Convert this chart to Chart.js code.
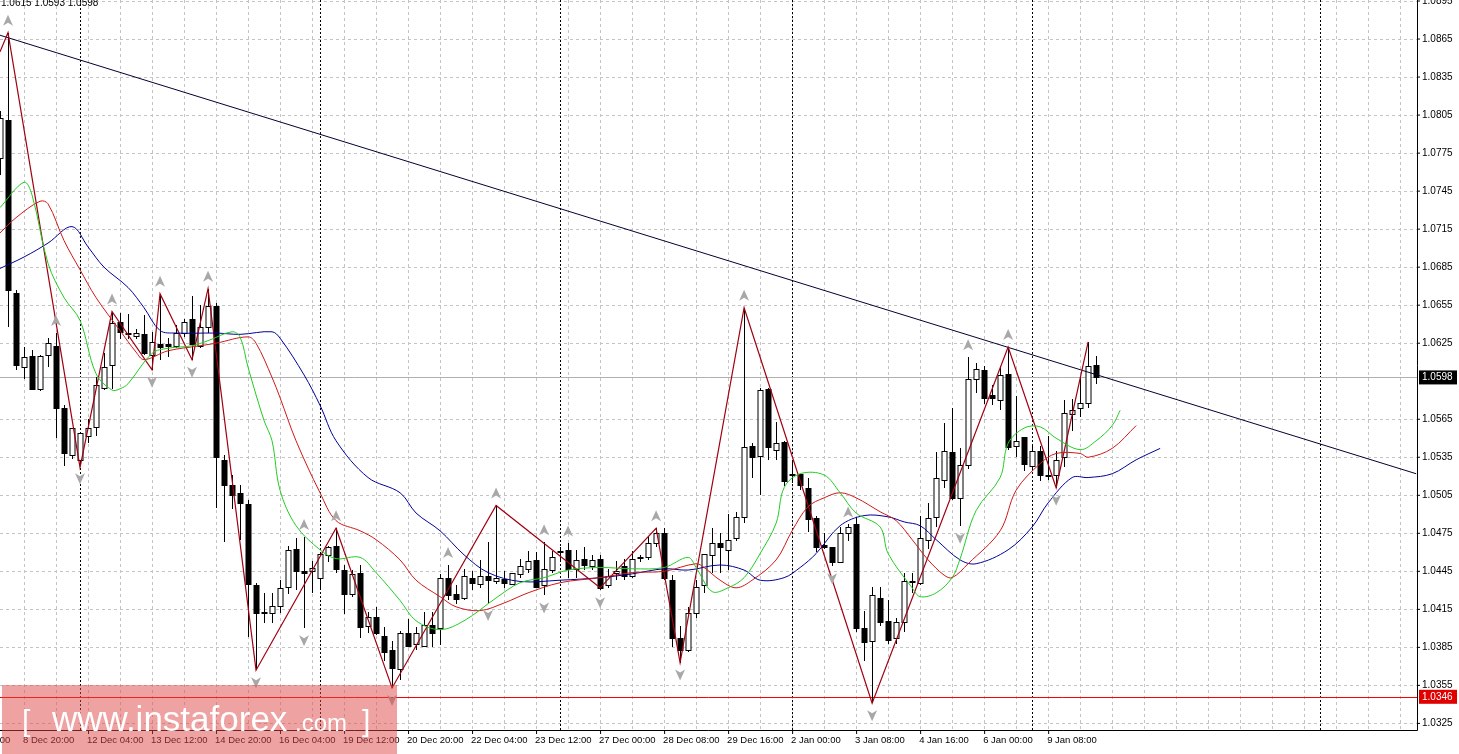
<!DOCTYPE html>
<html><head><meta charset="utf-8">
<script src="https://cdn.jsdelivr.net/npm/chart.js@4"></script>
<style>html,body{margin:0;padding:0;background:#fff;overflow:hidden}#wrap{width:1459px;height:754px}</style>
</head><body><div id="wrap"><canvas id="c" width="1459" height="754"></canvas></div>
<script>
// ---- data (EURUSD H4) ----
const opens = [
1.0771,1.0801,1.0665,1.0606,1.0615,1.0589,1.0616,1.0623,1.0574,1.0537,
1.0533,1.0552,1.0559,1.0590,1.0608,1.0642,1.0633,1.0631,1.0632,1.0616,
1.0624,1.0624,1.0623,1.0633,1.0644,1.0623,1.0638,1.0654,1.0533,1.0513,
1.0507,1.0498,1.0434,1.0412,1.0412,1.0418,1.0433,1.0463,1.0445,1.0445,
1.0440,1.0458,1.0465,1.0446,1.0427,1.0444,1.0402,1.0409,1.0394,1.0383,
1.0368,1.0396,1.0388,1.0386,1.0403,1.0400,1.0440,1.0427,1.0424,1.0440,
1.0435,1.0441,1.0437,1.0439,1.0435,1.0443,1.0447,1.0454,1.0434,1.0446,
1.0461,1.0462,1.0447,1.0455,1.0449,1.0455,1.0434,1.0444,1.0449,1.0441,
1.0456,1.0456,1.0467,1.0475,1.0438,1.0392,1.0383,1.0412,1.0434,1.0458,
1.0467,1.0462,1.0471,1.0488,1.0544,1.0536,1.0589,1.0541,1.0547,1.0522,
1.0522,1.0511,1.0487,1.0466,1.0464,1.0452,1.0475,1.0482,1.0400,1.0390,
1.0424,1.0406,1.0392,1.0405,1.0437,1.0436,1.0470,1.0488,1.0517,1.0539,
1.0503,1.0529,1.0597,1.0604,1.0584,1.0580,1.0601,1.0544,1.0551,1.0528,
1.0540,1.0521,1.0521,1.0535,1.0569,1.0574,1.0578,1.0608];
const highs = [
1.0808,1.0870,1.0667,1.0622,1.0620,1.0616,1.0629,1.0633,1.0576,1.0558,
1.0554,1.0565,1.0598,1.0617,1.0650,1.0649,1.0648,1.0636,1.0647,1.0634,
1.0664,1.0629,1.0639,1.0644,1.0662,1.0655,1.0668,1.0657,1.0537,1.0521,
1.0513,1.0501,1.0436,1.0428,1.0428,1.0438,1.0465,1.0471,1.0472,1.0453,
1.0459,1.0465,1.0479,1.0450,1.0446,1.0450,1.0413,1.0417,1.0401,1.0390,
1.0398,1.0407,1.0401,1.0413,1.0413,1.0443,1.0450,1.0434,1.0447,1.0445,
1.0454,1.0468,1.0497,1.0445,1.0444,1.0455,1.0461,1.0460,1.0468,1.0461,
1.0464,1.0467,1.0462,1.0464,1.0458,1.0458,1.0447,1.0453,1.0455,1.0461,
1.0458,1.0473,1.0479,1.0479,1.0442,1.0402,1.0417,1.0438,1.0459,1.0479,
1.0475,1.0490,1.0492,1.0653,1.0546,1.0590,1.0590,1.0563,1.0548,1.0531,
1.0522,1.0519,1.0489,1.0475,1.0464,1.0480,1.0482,1.0488,1.0414,1.0433,
1.0433,1.0422,1.0408,1.0444,1.0444,1.0489,1.0499,1.0539,1.0562,1.0574,
1.0542,1.0614,1.0609,1.0607,1.0592,1.0607,1.0622,1.0583,1.0551,1.0544,
1.0544,1.0552,1.0540,1.0580,1.0581,1.0598,1.0626,1.0615];
const lows = [
1.0758,1.0638,1.0604,1.0597,1.0588,1.0587,1.0606,1.0550,1.0528,1.0534,
1.0528,1.0546,1.0552,1.0588,1.0589,1.0628,1.0628,1.0628,1.0616,1.0604,
1.0612,1.0614,1.0621,1.0630,1.0612,1.0621,1.0633,1.0495,1.0468,1.0494,
1.0470,1.0393,1.0367,1.0404,1.0404,1.0412,1.0427,1.0430,1.0400,1.0428,
1.0432,1.0452,1.0444,1.0411,1.0425,1.0392,1.0396,1.0395,1.0374,1.0353,
1.0359,1.0385,1.0383,1.0385,1.0385,1.0387,1.0422,1.0419,1.0422,1.0430,
1.0432,1.0420,1.0435,1.0432,1.0434,1.0440,1.0444,1.0432,1.0426,1.0444,
1.0452,1.0440,1.0440,1.0446,1.0446,1.0430,1.0432,1.0438,1.0438,1.0440,
1.0452,1.0454,1.0464,1.0438,1.0385,1.0373,1.0381,1.0408,1.0428,1.0444,
1.0444,1.0446,1.0469,1.0483,1.0519,1.0505,1.0533,1.0533,1.0512,1.0515,
1.0509,1.0476,1.0460,1.0463,1.0449,1.0452,1.0469,1.0397,1.0374,1.0341,
1.0402,1.0388,1.0388,1.0397,1.0428,1.0434,1.0463,1.0480,1.0511,1.0501,
1.0481,1.0526,1.0586,1.0577,1.0576,1.0572,1.0541,1.0535,1.0524,1.0524,
1.0516,1.0517,1.0511,1.0527,1.0556,1.0567,1.0574,1.0593];
const closes = [
1.0803,1.0667,1.0608,1.0614,1.0589,1.0615,1.0625,1.0574,1.0538,1.0558,
1.0554,1.0558,1.0592,1.0606,1.0641,1.0634,1.0633,1.0633,1.0617,1.0626,
1.0622,1.0623,1.0633,1.0642,1.0624,1.0638,1.0654,1.0535,1.0513,1.0505,
1.0499,1.0435,1.0412,1.0413,1.0418,1.0432,1.0462,1.0445,1.0444,1.0448,
1.0459,1.0464,1.0447,1.0427,1.0443,1.0401,1.0409,1.0396,1.0381,1.0369,
1.0396,1.0386,1.0396,1.0403,1.0396,1.0440,1.0426,1.0423,1.0441,1.0436,
1.0441,1.0438,1.0440,1.0436,1.0444,1.0449,1.0453,1.0433,1.0447,1.0456,
1.0461,1.0447,1.0454,1.0450,1.0454,1.0432,1.0441,1.0445,1.0441,1.0455,
1.0456,1.0467,1.0475,1.0440,1.0392,1.0383,1.0412,1.0433,1.0459,1.0467,
1.0464,1.0470,1.0488,1.0543,1.0535,1.0588,1.0543,1.0546,1.0516,1.0522,
1.0513,1.0486,1.0464,1.0464,1.0452,1.0475,1.0480,1.0400,1.0389,1.0426,
1.0405,1.0391,1.0405,1.0437,1.0437,1.0471,1.0487,1.0519,1.0540,1.0503,
1.0529,1.0597,1.0605,1.0582,1.0582,1.0600,1.0543,1.0548,1.0530,1.0540,
1.0521,1.0521,1.0533,1.0570,1.0572,1.0578,1.0607,1.0598];

const greenIdx = [0,3,4,6,8,10,12,14,15,16,19,21,24,26,29,30,31,33,34,35,37,40,42,45,47,50,52,55,58,62,65,68,71,75,79,83,86,87,89,91,93,95,97,98,100,103,105,107,110,111,114,115,117,119,120,122,125,126,128,130,132,135,137,139,140];
const greenVal = [1.0732,1.0752,1.0742,1.0688,1.0661,1.0643,1.0601,1.0588,1.0589,1.0593,1.0617,1.0621,1.0623,1.0627,1.0634,1.0630,1.0606,1.0564,1.0548,1.0509,1.0481,1.0462,1.0455,1.0456,1.0444,1.0422,1.0406,1.0399,1.0406,1.0424,1.0436,1.0440,1.0446,1.0448,1.0447,1.0448,1.0456,1.0448,1.0429,1.0432,1.0440,1.0459,1.0483,1.0511,1.0522,1.0521,1.0507,1.0491,1.0480,1.0459,1.0432,1.0425,1.0428,1.0440,1.0455,1.0493,1.0519,1.0546,1.0558,1.0559,1.0550,1.0541,1.0548,1.0560,1.0572];
const redIdx = [0,2,5,6,8,10,12,15,17,18,21,25,27,31,32,34,35,37,40,42,45,47,50,52,55,57,60,63,66,70,75,79,83,87,88,90,92,94,97,99,101,103,105,107,110,112,114,116,118,119,121,125,127,130,132,135,136,139,142];
const redVal = [1.0712,1.0724,1.0737,1.0735,1.0706,1.0683,1.0661,1.0635,1.0618,1.0612,1.0619,1.0623,1.0625,1.0630,1.0625,1.0598,1.0582,1.0548,1.0507,1.0485,1.0477,1.0470,1.0454,1.0438,1.0425,1.0417,1.0414,1.0420,1.0428,1.0436,1.0440,1.0444,1.0445,1.0451,1.0448,1.0438,1.0432,1.0438,1.0454,1.0477,1.0496,1.0503,1.0507,1.0503,1.0492,1.0485,1.0470,1.0454,1.0442,1.0440,1.0451,1.0477,1.0509,1.0530,1.0538,1.0538,1.0535,1.0542,1.0560];
const blueIdx = [0,3,6,9,11,13,16,18,20,22,27,30,34,35,38,40,42,46,50,52,55,58,61,65,70,75,79,83,86,90,93,95,98,100,102,105,108,111,113,115,117,120,122,126,129,131,134,136,139,142,145];
const blueVal = [1.0684,1.0693,1.0704,1.0717,1.0701,1.0685,1.0669,1.0653,1.0635,1.0633,1.0633,1.0632,1.0634,1.0629,1.0600,1.0576,1.0548,1.0519,1.0507,1.0491,1.0477,1.0458,1.0444,1.0437,1.0438,1.0440,1.0443,1.0447,1.0446,1.0450,1.0446,1.0438,1.0440,1.0448,1.0459,1.0481,1.0489,1.0488,1.0484,1.0481,1.0470,1.0454,1.0451,1.0462,1.0480,1.0499,1.0519,1.0519,1.0522,1.0533,1.0542];
const zigIdx = [0,1,10,14,19,20,24,26,32,42,49,62,75,82,85,93,109,126,132,136];
const zigVal = [1.0855,1.0870,1.0527,1.0650,1.0604,1.0664,1.0612,1.0668,1.0367,1.0479,1.0353,1.0497,1.0432,1.0479,1.0373,1.0653,1.0341,1.0622,1.0511,1.0626];
const trendIdx = [0,177];
const trendVal = [1.0868,1.0522];
const fractalUp = [1,7,14,20,26,38,42,56,62,68,71,82,93,106,121,126];
const fractalDown = [10,19,24,32,38,49,61,68,75,85,104,109,120,132];
const priceTicks = ["1.0895","1.0865","1.0835","1.0805","1.0775","1.0745","1.0715","1.0685","1.0655","1.0625","1.0565","1.0535","1.0505","1.0475","1.0445","1.0415","1.0385","1.0355","1.0325"];
const timeLabels = ["7 Dec 12:00","8 Dec 20:00","12 Dec 04:00","13 Dec 12:00","14 Dec 20:00","16 Dec 04:00","19 Dec 12:00","20 Dec 20:00","22 Dec 04:00","23 Dec 12:00","27 Dec 00:00","28 Dec 08:00","29 Dec 16:00","2 Jan 00:00","3 Jan 08:00","4 Jan 16:00","6 Jan 00:00","9 Jan 08:00"];
const timeLabelBars = [-5,3,11,19,27,35,43,51,59,67,75,83,91,99,107,115,123,131];
const daySeparators = [10,40,70,99,129,165];
const bidPrice = 1.0598;
const supportLevel = 1.0346;
const headerText = "1.0615 1.0593 1.0598";

const pts = (ix, v) => ix.map((x, i) => ({x, y: v[i]}));

const mt4 = {
  id: 'mt4',
  beforeDatasetsDraw(chart) {
    const {ctx, chartArea: a, scales: {x, y}} = chart;
    ctx.save();
    ctx.beginPath(); ctx.rect(a.left, a.top, a.right - a.left, a.bottom - a.top); ctx.clip();
    ctx.lineWidth = 1;
    ctx.strokeStyle = '#c4c4c4'; ctx.setLineDash([3, 3]);
    priceTicks.forEach(t => { const py = Math.round(y.getPixelForValue(+t)) + 0.5; ctx.beginPath(); ctx.moveTo(a.left, py); ctx.lineTo(a.right, py); ctx.stroke(); });
    for (let b = 3; b < 178; b += 4) { const px = Math.round(x.getPixelForValue(b)) + 0.5; ctx.beginPath(); ctx.moveTo(px, a.top); ctx.lineTo(px, a.bottom); ctx.stroke(); }
    ctx.strokeStyle = '#000'; ctx.setLineDash([2, 2]);
    daySeparators.forEach(b => { const px = Math.round(x.getPixelForValue(b)) + 0.5; ctx.beginPath(); ctx.moveTo(px, a.top); ctx.lineTo(px, a.bottom); ctx.stroke(); });
    ctx.setLineDash([]);
    let py = Math.round(y.getPixelForValue(bidPrice)) + 0.5;
    ctx.strokeStyle = '#b0b0b0'; ctx.beginPath(); ctx.moveTo(a.left, py); ctx.lineTo(a.right, py); ctx.stroke();
    py = Math.round(y.getPixelForValue(supportLevel)) + 0.5;
    ctx.strokeStyle = '#ff0000'; ctx.beginPath(); ctx.moveTo(a.left, py); ctx.lineTo(a.right, py); ctx.stroke();
    for (let i = 0; i < opens.length; i++) {
      const cx = Math.round(x.getPixelForValue(i)) + 0.5;
      const yo = Math.round(y.getPixelForValue(opens[i])), yc = Math.round(y.getPixelForValue(closes[i]));
      const yh = Math.round(y.getPixelForValue(highs[i])), yl = Math.round(y.getPixelForValue(lows[i]));
      ctx.strokeStyle = '#000'; ctx.beginPath(); ctx.moveTo(cx, yh); ctx.lineTo(cx, yl); ctx.stroke();
      const top = Math.min(yo, yc), h = Math.max(1, Math.abs(yo - yc));
      if (closes[i] >= opens[i]) { ctx.fillStyle = '#fff'; ctx.fillRect(cx - 2.5, top + 0.5, 5, h); ctx.strokeRect(cx - 2.5, top + 0.5, 5, h); }
      else { ctx.fillStyle = '#000'; ctx.fillRect(cx - 3, top, 6, h + 1); }
    }
    ctx.restore();
  },
  afterDatasetsDraw(chart) {
    const {ctx, chartArea: a, scales: {x, y}} = chart;
    ctx.save();
    ctx.beginPath(); ctx.rect(a.left, a.top, a.right - a.left, a.bottom - a.top); ctx.clip();
    ctx.fillStyle = '#a8a8a8';
    const arrow = (px, py, dir) => {
      ctx.beginPath(); ctx.moveTo(px, py - 6 * dir); ctx.lineTo(px - 5, py + 5 * dir); ctx.lineTo(px, py + 2 * dir); ctx.lineTo(px + 5, py + 5 * dir); ctx.closePath(); ctx.fill();
    };
    fractalUp.forEach(b => arrow(x.getPixelForValue(b), y.getPixelForValue(highs[b]) - 12, 1));
    fractalDown.forEach(b => arrow(x.getPixelForValue(b), y.getPixelForValue(lows[b]) + 12, -1));
    ctx.restore();
    ctx.save();
    ctx.strokeStyle = '#000'; ctx.lineWidth = 1;
    ctx.beginPath(); ctx.moveTo(a.right + 0.5, 0); ctx.lineTo(a.right + 0.5, a.bottom + 0.5); ctx.lineTo(0, a.bottom + 0.5); ctx.stroke();
    ctx.font = '10px "Liberation Sans"'; ctx.fillStyle = '#000'; ctx.textBaseline = 'middle'; ctx.textAlign = 'left';
    priceTicks.forEach(t => { const py = y.getPixelForValue(+t); ctx.beginPath(); ctx.moveTo(a.right, py); ctx.lineTo(a.right + 3, py); ctx.stroke(); ctx.fillText(t, a.right + 5, py); });
    let py = y.getPixelForValue(bidPrice);
    ctx.fillStyle = '#000'; ctx.fillRect(a.right + 2, py - 7, 38, 14); ctx.fillStyle = '#fff'; ctx.fillText(bidPrice.toFixed(4), a.right + 5, py);
    py = y.getPixelForValue(supportLevel);
    ctx.fillStyle = '#e00000'; ctx.fillRect(a.right + 2, py - 7, 38, 14); ctx.fillStyle = '#fff'; ctx.fillText(supportLevel.toFixed(4), a.right + 5, py);
    ctx.fillStyle = '#000'; ctx.font = '9.5px "Liberation Sans"';
    timeLabels.forEach((t, i) => { const px = x.getPixelForValue(timeLabelBars[i]); ctx.beginPath(); ctx.moveTo(px + 0.5, a.bottom); ctx.lineTo(px + 0.5, a.bottom + 4); ctx.stroke(); ctx.fillText(t, px - 1, a.bottom + 10); });
    ctx.textBaseline = 'alphabetic'; ctx.font = '10px "Liberation Sans"'; ctx.fillText(headerText, 1, 6);
    ctx.fillStyle = 'rgba(222,70,70,0.5)'; ctx.fillRect(2, 685, 395, 69);
    ctx.fillStyle = '#fff';
    ctx.font = '30px "Liberation Sans"'; ctx.fillText('[', 22, 731);
    ctx.font = '35px "Liberation Sans"'; ctx.fillText('www.instaforex', 52, 731);
    ctx.font = '24px "Liberation Sans"'; ctx.fillText('.com', 295, 731);
    ctx.font = '30px "Liberation Sans"'; ctx.fillText(']', 362, 731);
    ctx.restore();
  }
};

new Chart(document.getElementById('c'), {
  type: 'line',
  data: { datasets: [
    {data: pts(greenIdx, greenVal), borderColor: '#22cc22', borderWidth: 1, pointRadius: 0, tension: 0.35},
    {data: pts(redIdx, redVal), borderColor: '#d01818', borderWidth: 1, pointRadius: 0, tension: 0.35},
    {data: pts(blueIdx, blueVal), borderColor: '#000099', borderWidth: 1, pointRadius: 0, tension: 0.35},
    {data: pts(zigIdx, zigVal), borderColor: '#a00010', borderWidth: 1.2, pointRadius: 0, tension: 0},
    {data: pts(trendIdx, trendVal), borderColor: '#000033', borderWidth: 1, pointRadius: 0, tension: 0}
  ]},
  options: {
    responsive: false, animation: false, devicePixelRatio: 1,
    layout: {padding: {left: 0, top: 0, right: 42, bottom: 24}},
    plugins: {legend: {display: false}, tooltip: {enabled: false}},
    scales: {
      x: {type: 'linear', min: 0, max: 177.1, display: false},
      y: {type: 'linear', min: 1.03198, max: 1.08958, display: false}
    }
  },
  plugins: [mt4]
});
</script></body></html>
